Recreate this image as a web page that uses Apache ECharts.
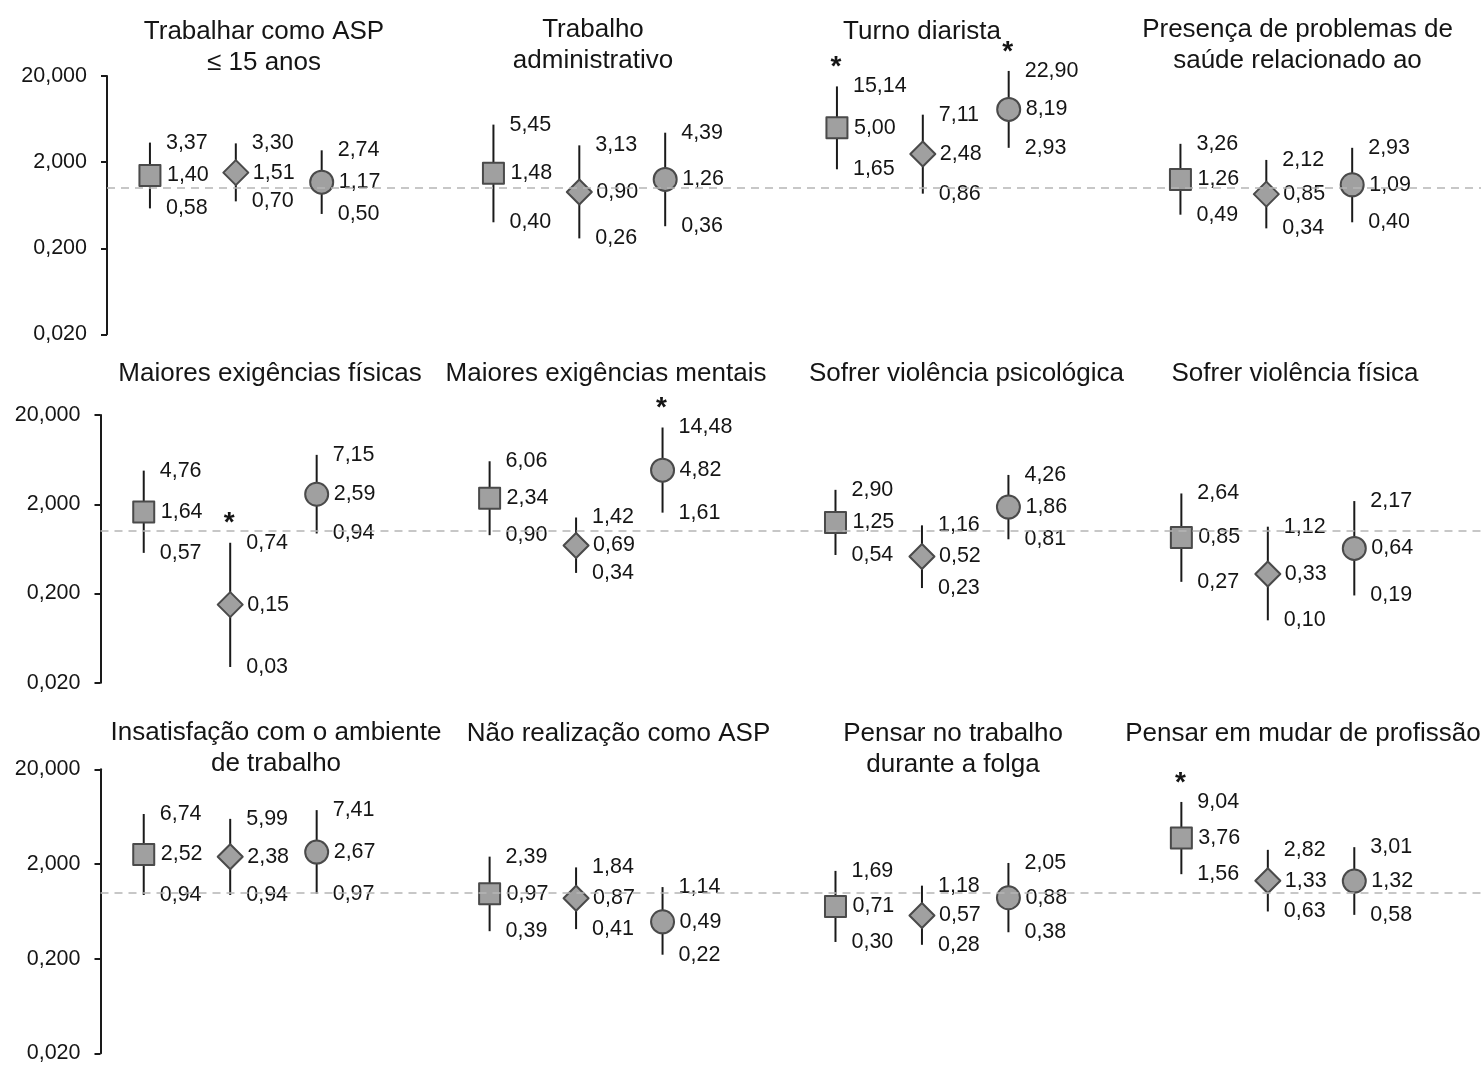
<!DOCTYPE html>
<html>
<head>
<meta charset="utf-8">
<script src="https://cdn.jsdelivr.net/npm/echarts@6/dist/echarts.min.js"></script>
<style>
html,body{margin:0;padding:0;background:#fff;}
#c{width:1484px;height:1066px;}
</style>
</head>
<body>
<div id="c"></div>
<script>
// ---------------- DATA ----------------
const panelTitles = [
  'Trabalhar como ASP\n≤ 15 anos',
  'Trabalho\nadministrativo',
  'Turno diarista',
  'Presença de problemas de\nsaúde relacionado ao',
  'Maiores exigências físicas',
  'Maiores exigências mentais',
  'Sofrer violência psicológica',
  'Sofrer violência física',
  'Insatisfação com o ambiente\nde trabalho',
  'Não realização como ASP',
  'Pensar no trabalho\ndurante a folga',
  'Pensar em mudar de profissão'
];
// order inside each panel: [square, diamond, circle]
const oddsRatio = [
  [1.40, 1.51, 1.17],
  [1.48, 0.90, 1.26],
  [5.00, 2.48, 8.19],
  [1.26, 0.85, 1.09],
  [1.64, 0.15, 2.59],
  [2.34, 0.69, 4.82],
  [1.25, 0.52, 1.86],
  [0.85, 0.33, 0.64],
  [2.52, 2.38, 2.67],
  [0.97, 0.87, 0.49],
  [0.71, 0.57, 0.88],
  [3.76, 1.33, 1.32]
];
const lowerCI = [
  [0.58, 0.70, 0.50],
  [0.40, 0.26, 0.36],
  [1.65, 0.86, 2.93],
  [0.49, 0.34, 0.40],
  [0.57, 0.03, 0.94],
  [0.90, 0.34, 1.61],
  [0.54, 0.23, 0.81],
  [0.27, 0.10, 0.19],
  [0.94, 0.94, 0.97],
  [0.39, 0.41, 0.22],
  [0.30, 0.28, 0.38],
  [1.56, 0.63, 0.58]
];
const upperCI = [
  [3.37, 3.30, 2.74],
  [5.45, 3.13, 4.39],
  [15.14, 7.11, 22.90],
  [3.26, 2.12, 2.93],
  [4.76, 0.74, 7.15],
  [6.06, 1.42, 14.48],
  [2.90, 1.16, 4.26],
  [2.64, 1.12, 2.17],
  [6.74, 5.99, 7.41],
  [2.39, 1.84, 1.14],
  [1.69, 1.18, 2.05],
  [9.04, 2.82, 3.01]
];
const significant = [
  [0, 0, 0],
  [0, 0, 0],
  [1, 0, 1],
  [0, 0, 0],
  [0, 1, 0],
  [0, 0, 1],
  [0, 0, 0],
  [0, 0, 0],
  [0, 0, 0],
  [0, 0, 0],
  [0, 0, 0],
  [1, 0, 0]
];
const tickValues = [0.02, 0.2, 2, 20];
const referenceValue = 1;
const slotNames = ['p1a','p1b','p1c','p1g','p2a','p2b','p2c','p2g','p3a','p3b','p3c','p3g','p4a','p4b','p4c','p4g'];
const markerShapes = ['rect', 'diamond', 'circle'];

// ---------------- LAYOUT ----------------
const FF = "'Liberation Sans', Arial, sans-serif";
const TXT = '#151515';
const grids = [
  {left: 107, top: 76, width: 1374, height: 258.3},
  {left: 100.5, top: 415, width: 1392, height: 267.7},
  {left: 100.5, top: 769.3, width: 1392, height: 284}
];
const titlePos = [
  [264, 16], [593, 14], [922, 16], [1297.5, 14],
  [270, 358], [606, 358], [966.5, 358], [1295, 358],
  [276, 717], [618.5, 718], [953, 718], [1303, 718]
];
const markerSizes = [[21, 21], [25, 25], [23, 23]];

const lg = v => Math.log10(v);
const fmt = v => v.toFixed(2).replace('.', ',');
const fmtTick = v => {
  let best = tickValues[0];
  tickValues.forEach(t => { if (Math.abs(Math.log10(t) - v) < Math.abs(Math.log10(best) - v)) best = t; });
  return best.toFixed(3).replace('.', ',');
};

const option = {
  animation: false,
  backgroundColor: '#ffffff',
  title: [], grid: [], xAxis: [], yAxis: [], series: []
};

panelTitles.forEach((t, i) => {
  option.title.push({
    text: t,
    left: titlePos[i][0],
    top: titlePos[i][1],
    padding: 0,
    textAlign: 'center',
    textStyle: {fontFamily: FF, fontSize: 26, fontWeight: 'normal', color: TXT, lineHeight: 31}
  });
});

const labelStyle = (dist) => ({
  show: true, position: 'right', distance: dist,
  fontFamily: FF, fontSize: 21.5, color: TXT, opacity: 1,
  formatter: p => fmt(p.data.raw)
});

for (let r = 0; r < 3; r++) {
  option.grid.push(grids[r]);
  option.xAxis.push({type: 'category', gridIndex: r, data: slotNames, boundaryGap: true, show: false});
  option.yAxis.push({
    type: 'value', gridIndex: r,
    min: lg(tickValues[0]), max: lg(tickValues[tickValues.length - 1]), interval: 1,
    axisLine: {show: true, lineStyle: {color: '#1a1a1a', width: 2}},
    axisTick: {show: true, length: 6, lineStyle: {color: '#1a1a1a', width: 2}},
    splitLine: {show: false},
    axisLabel: {margin: 20, fontFamily: FF, fontSize: 21.5, color: TXT, formatter: fmtTick}
  });

  const bars = [], marks = [], upLab = [], midLab = [], loLab = [], stars = [];
  for (let k = 0; k < 4; k++) {
    const p = r * 4 + k;
    for (let m = 0; m < 3; m++) {
      const x = k * 4 + m;
      bars.push([x, lg(lowerCI[p][m]), lg(upperCI[p][m])]);
      marks.push({value: [x, lg(oddsRatio[p][m])], symbol: markerShapes[m], symbolSize: markerSizes[m]});
      upLab.push({value: [x, lg(upperCI[p][m])], raw: upperCI[p][m]});
      midLab.push({value: [x, lg(oddsRatio[p][m])], raw: oddsRatio[p][m]});
      loLab.push({value: [x, lg(lowerCI[p][m])], raw: lowerCI[p][m]});
      if (significant[p][m]) stars.push([x, lg(upperCI[p][m])]);
    }
  }

  option.series.push({
    type: 'custom', xAxisIndex: r, yAxisIndex: r, z: 2, clip: false,
    encode: {x: 0, y: [1, 2]},
    data: bars,
    renderItem: (params, api) => {
      const a = api.coord([api.value(0), api.value(1)]);
      const b = api.coord([api.value(0), api.value(2)]);
      return {type: 'line', shape: {x1: a[0], y1: a[1], x2: b[0], y2: b[1]},
        style: {stroke: '#1a1a1a', lineWidth: 2}};
    },
    markLine: {
      silent: true, symbol: ['none', 'none'], label: {show: false},
      lineStyle: {color: '#b5b5b5', type: [8, 6], width: 1.5},
      emphasis: {disabled: true},
      data: [{yAxis: lg(referenceValue)}]
    }
  });
  option.series.push({
    type: 'scatter', xAxisIndex: r, yAxisIndex: r, z: 3, clip: false,
    data: marks,
    itemStyle: {color: '#a0a0a0', borderColor: '#4a4a4a', borderWidth: 2, borderJoin: 'round', opacity: 1},
    emphasis: {disabled: true}
  });
  [[upLab, 16], [midLab, 17], [loLab, 16]].forEach(([d, dist]) => {
    option.series.push({
      type: 'scatter', xAxisIndex: r, yAxisIndex: r, z: 4, clip: false,
      data: d, symbolSize: 0,
      itemStyle: {opacity: 1},
      label: labelStyle(dist),
      emphasis: {disabled: true}
    });
  });
  option.series.push({
    type: 'scatter', xAxisIndex: r, yAxisIndex: r, z: 4, clip: false,
    data: stars, symbolSize: 0,
    itemStyle: {opacity: 1},
    label: {show: true, position: 'inside', offset: [-1, -19], formatter: '*',
      fontFamily: FF, fontSize: 28, fontWeight: 'bold', color: TXT, opacity: 1},
    emphasis: {disabled: true}
  });
}

const chart = echarts.init(document.getElementById('c'), null, {renderer: 'canvas'});
chart.setOption(option);
</script>
</body>
</html>
